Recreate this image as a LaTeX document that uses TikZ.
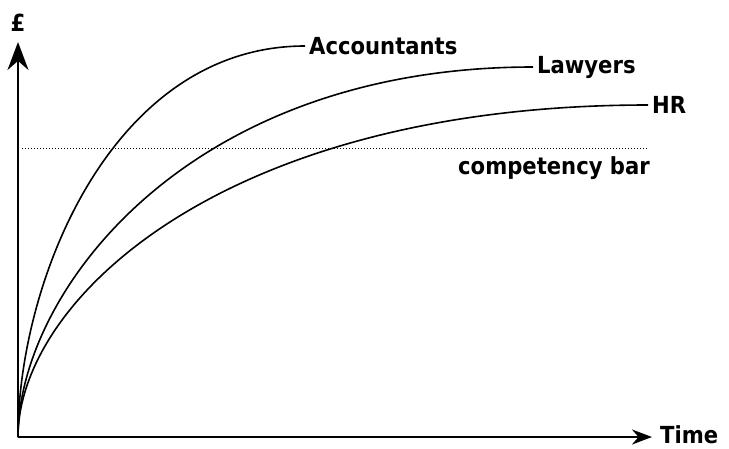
\documentclass[tikz,border=0pt]{standalone}
\usepackage{fontspec}
\setmainfont{DejaVu Sans Condensed}
\usetikzlibrary{arrows.meta}
\begin{document}
\begin{tikzpicture}[x=1pt,y=-1pt,
  axis/.style={line width=2pt},
  curve/.style={line width=1.6pt},
  bar/.style={line width=1pt, dash pattern=on 1pt off 2pt},
  lbl/.style={font=\fontsize{23.5}{27}\selectfont\bfseries, inner sep=4pt}]
  \useasboundingbox (0,0) rectangle (729,448);
  \coordinate (o) at (18,437);
  \coordinate (ytip) at (18,42);
  \coordinate (xtip) at (652,437);
  \coordinate (barl) at (22,148);
  \coordinate (barr) at (648,148);
  \node[lbl] (pound) at (18,23) {£};
  \node[lbl, anchor=west] (time) at (656,435) {Time};
  \node[lbl, anchor=west] (acc) at (305,46) {Accountants};
  \node[lbl, anchor=west] (law) at (533,67) {Lawyers};
  \node[lbl, anchor=west] (hr) at (648,105) {HR};
  \node[lbl, anchor=west] (comp) at (454,168) {competency bar};
  \draw[axis, -{Stealth[length=28pt, width=21pt]}] (o) -- (ytip);
  \draw[axis, -{Stealth[length=20pt, width=15pt]}] (o) -- (xtip);
  \draw[bar] (barl) -- (barr);
  \draw[curve] (o) .. controls (18,281) and (112,46) .. (acc.west);
  \draw[curve] (o) .. controls (18,294) and (185,67) .. (law.west);
  \draw[curve] (o) .. controls (18,302) and (220,105) .. (hr.west);
\end{tikzpicture}
\end{document}
